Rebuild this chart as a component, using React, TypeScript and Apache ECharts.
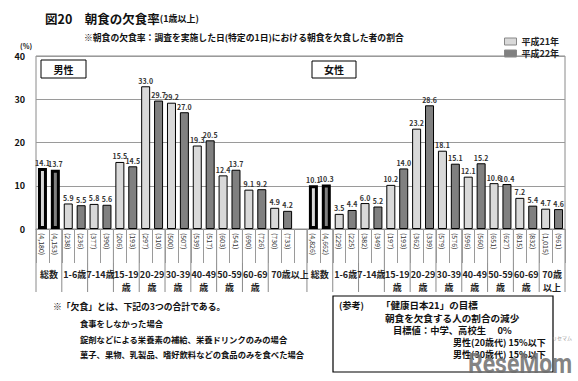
import React, { useEffect, useRef } from "react";
import * as echarts from "echarts";

const FONT = '"Noto Sans CJK JP", "Noto Sans", sans-serif';

const maleGroups = ["総数", "1-6歳", "7-14歳", "15-19\n歳", "20-29\n歳", "30-39\n歳", "40-49\n歳", "50-59\n歳", "60-69\n歳", "70歳以上"];
const femaleGroups = ["総数", "1-6歳", "7-14歳", "15-19\n歳", "20-29\n歳", "30-39\n歳", "40-49\n歳", "50-59\n歳", "60-69\n歳", "70歳\n以上"];
const maleH21 = [14.1, 5.9, 5.8, 15.5, 33.0, 29.2, 19.3, 12.4, 9.1, 4.9];
const maleH22 = [13.7, 5.5, 5.6, 14.5, 29.7, 27.0, 20.5, 13.7, 9.2, 4.2];
const femaleH21 = [10.1, 3.5, 6.0, 10.2, 23.2, 18.1, 12.1, 10.6, 7.2, 4.7];
const femaleH22 = [10.3, 4.4, 5.2, 14.0, 28.6, 15.1, 15.2, 10.4, 5.4, 4.6];
const maleN = ["4,180", "4,153", "238", "236", "377", "390", "206", "193", "297", "310", "500", "507", "539", "517", "603", "541", "690", "726", "730", "733"];
const femaleN = ["4,826", "4,662", "229", "225", "382", "349", "197", "193", "362", "339", "579", "576", "596", "560", "651", "627", "815", "832", "1,015", "961"];
const yMax = 40;
const yStep = 10;
const seriesNames = ["平成21年", "平成22年"];
const notes = [
  "食事をしなかった場合",
  "錠剤などによる栄養素の補給、栄養ドリンクのみの場合",
  "菓子、果物、乳製品、嗜好飲料などの食品のみを食べた場合",
];

const FEMALE_START = 21;
const SLOTS = 41;

function buildSeriesData(male: number[], female: number[], offset: number) {
  const arr: any[] = new Array(SLOTS).fill(null);
  male.forEach((v, g) => {
    arr[2 * g + offset] = g === 0 ? { value: v, itemStyle: { borderWidth: 3 } } : v;
  });
  female.forEach((v, g) => {
    arr[FEMALE_START + 2 * g + offset] = g === 0 ? { value: v, itemStyle: { borderWidth: 3 } } : v;
  });
  return arr;
}

const sampleLabels: string[] = new Array(SLOTS).fill("");
maleN.forEach((n, i) => (sampleLabels[i] = "(" + n + ")"));
femaleN.forEach((n, i) => (sampleLabels[FEMALE_START + i] = "(" + n + ")"));
const categories = sampleLabels.map((_, i) => "s" + i);

export default function App() {
  const ref = useRef<HTMLDivElement>(null);
  useEffect(() => {
    if (!ref.current) return;
    const chart = echarts.init(ref.current, undefined, { renderer: "svg" });
    const labelStyle = {
      show: true,
      position: "top",
      distance: 2,
      fontSize: 7,
      fontWeight: "bold",
      color: "#333",
      fontFamily: FONT,
      formatter: (p: any) => Number(p.value).toFixed(1),
    };
    chart.setOption({
      animation: false,
      textStyle: { fontFamily: FONT },
      grid: { left: 36, right: 13, top: 56, bottom: 152, show: true, borderColor: "#8a8a8a", borderWidth: 1 },
      legend: {
        orient: "vertical",
        left: 499,
        top: 32,
        itemWidth: 12,
        itemHeight: 7,
        itemGap: 3,
        icon: "rect",
        itemStyle: { borderColor: "#888", borderWidth: 1 },
        textStyle: { fontSize: 9, fontWeight: "bold", color: "#222", fontFamily: FONT },
        data: seriesNames,
      },
      xAxis: {
        type: "category",
        data: categories,
        boundaryGap: true,
        axisLine: { show: true, lineStyle: { color: "#8a8a8a" } },
        axisTick: { show: true, interval: 0, length: 34, lineStyle: { color: "#9a9a9a" } },
        axisLabel: {
          interval: 0,
          rotate: -90,
          margin: 4,
          fontSize: 7,
          color: "#333",
          fontFamily: FONT,
          formatter: (_v: string, i: number) => sampleLabels[i],
        },
      },
      yAxis: {
        type: "value",
        min: 0,
        max: yMax,
        interval: yStep,
        axisLine: { show: false },
        axisTick: { show: false },
        axisLabel: { fontSize: 9, fontWeight: "bold", color: "#111", margin: 11, fontFamily: FONT },
        splitLine: { lineStyle: { color: "#9a9a9a" } },
      },
      series: [
        {
          name: seriesNames[0],
          type: "bar",
          barWidth: 9,
          barGap: "-100%",
          itemStyle: { color: "#d9d9d9", borderColor: "#000", borderWidth: 1 },
          label: labelStyle,
          data: buildSeriesData(maleH21, femaleH21, 0),
        },
        {
          name: seriesNames[1],
          type: "bar",
          barWidth: 9,
          barGap: "-100%",
          itemStyle: { color: "#808080", borderColor: "#000", borderWidth: 1 },
          label: labelStyle,
          data: buildSeriesData(maleH22, femaleH22, 1),
        },
      ],
    });

    const px = (i: number) => chart.convertToPixel({ xAxisIndex: 0 }, i) as number;
    const w = px(1) - px(0);
    const y0 = chart.convertToPixel({ yAxisIndex: 0 }, 0) as number;
    const graphics: any[] = [];
    const sepX: number[] = [];
    for (let g = 0; g < 10; g++) sepX.push(px(2 * g) - w / 2);
    for (let g = 0; g < 10; g++) sepX.push(px(FEMALE_START + 2 * g) - w / 2);
    sepX.push(px(SLOTS - 1) + w / 2);
    sepX.forEach((x) =>
      graphics.push({ type: "line", shape: { x1: x, y1: y0, x2: x, y2: y0 + 63 }, style: { stroke: "#8a8a8a", lineWidth: 1 } })
    );
    const gl = (text: string, x: number, align: string) => ({
      type: "text",
      x,
      y: y0 + 39,
      style: { text, fontSize: 9, fontWeight: "bold", fill: "#222", fontFamily: FONT, align, verticalAlign: "top", lineHeight: 13 },
    });
    maleGroups.forEach((t, g) => {
      if (g === 9) graphics.push(gl(t, px(2 * g) - w / 2 + 3, "left"));
      else graphics.push(gl(t, (px(2 * g) + px(2 * g + 1)) / 2, "center"));
    });
    femaleGroups.forEach((t, g) => {
      graphics.push(gl(t, (px(FEMALE_START + 2 * g) + px(FEMALE_START + 2 * g + 1)) / 2, "center"));
    });

    const txt = (text: string, x: number, y: number, fontSize: number, extra: any = {}) => ({
      type: "text",
      x,
      y,
      style: { text, fontSize, fontWeight: "bold", fill: "#111", fontFamily: FONT, verticalAlign: "middle", ...extra },
    });

    // Title
    graphics.push({
      type: "text",
      x: 45,
      y: 18,
      style: {
        text: "{a|図20　朝食の欠食率}{b|(1歳以上)}",
        verticalAlign: "middle",
        rich: {
          a: { fontSize: 12.5, fontWeight: "bold", fill: "#111", fontFamily: FONT },
          b: { fontSize: 9, fontWeight: "bold", fill: "#111", fontFamily: FONT },
        },
      },
    });
    graphics.push(txt("※朝食の欠食率：調査を実施した日(特定の1日)における朝食を欠食した者の割合", 84, 37, 8.8));
    graphics.push(txt("(%)", 20, 46, 7));

    // Sex boxes
    graphics.push({ type: "rect", shape: { x: 41, y: 60, width: 45, height: 18 }, style: { fill: "#fff", stroke: "#000", lineWidth: 1 } });
    graphics.push(txt("男性", 63.5, 69, 10, { align: "center" }));
    graphics.push({ type: "rect", shape: { x: 312, y: 61, width: 44, height: 17 }, style: { fill: "#fff", stroke: "#000", lineWidth: 1 } });
    graphics.push(txt("女性", 334, 69.5, 10, { align: "center" }));

    // Notes
    graphics.push(txt("※「欠食」とは、下記の3つの合計である。", 53, 306, 8.8));
    notes.forEach((n, i) => graphics.push(txt(n, 80, 323 + i * 15.5, 8.3)));

    // Reference box
    graphics.push({ type: "rect", shape: { x: 333, y: 296, width: 220, height: 76 }, style: { fill: "#fff", stroke: "#000", lineWidth: 1.2 } });
    graphics.push(txt("(参考)", 339, 305, 9));
    graphics.push(txt("「健康日本21」の目標", 381, 305, 9.5));
    graphics.push(txt("朝食を欠食する人の割合の減少", 385, 317.5, 9.6));
    graphics.push(txt("目標値：中学、高校生　 0%", 393, 330, 9.3));
    graphics.push(txt("男性(20歳代) 15%以下", 453, 342.5, 9));
    graphics.push(txt("男性(30歳代) 15%以下", 453, 354.5, 9));

    // Watermark
    graphics.push({
      type: "text",
      x: 468,
      y: 363,
      scaleX: 0.82,
      originX: 0,
      originY: 0,
      style: {
        text: "ReseMom",
        fontSize: 28,
        fontWeight: "bold",
        fontFamily: '"Roboto", "Liberation Sans", sans-serif',
        fill: "rgba(110,110,110,0.85)",
        verticalAlign: "middle",
      },
    });
    graphics.push(txt("リセマム", 552, 337, 5, { fill: "#999", fontWeight: "normal" }));

    chart.setOption({ graphic: graphics });
    return () => chart.dispose();
  }, []);
  return <div ref={ref} style={{ position: "fixed", left: 0, top: 0, width: 578, height: 381, background: "#fff" }} />;
}
